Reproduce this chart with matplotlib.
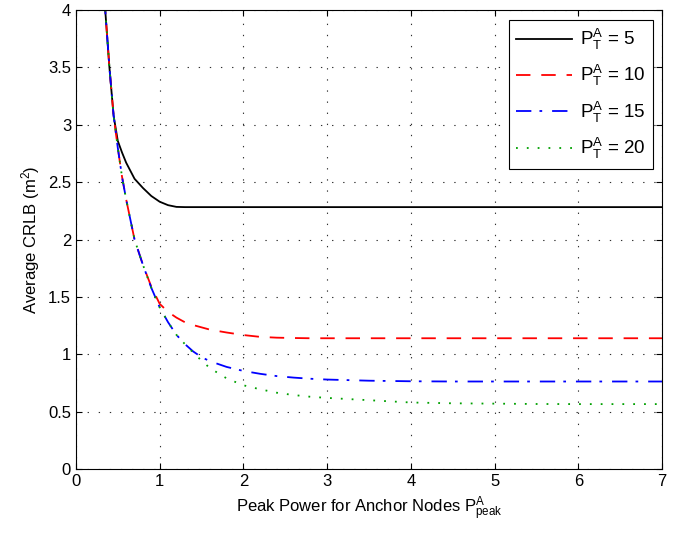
import matplotlib
matplotlib.use("Agg")
import matplotlib.pyplot as plt

plt.rcParams['font.family'] = ['Liberation Sans', 'DejaVu Sans']
plt.rcParams['mathtext.fontset'] = 'custom'
plt.rcParams['mathtext.rm'] = 'Liberation Sans'
plt.rcParams['mathtext.it'] = 'Liberation Sans'
plt.rcParams['font.size'] = 12

# Peak power samples
x = [0.3, 0.35, 0.4, 0.45, 0.5, 0.55, 0.6, 0.7, 0.8, 0.9, 1.0, 1.1, 1.2, 1.3,
     1.4, 1.5, 1.6, 1.8, 2.0, 2.2, 2.4, 2.6, 2.8, 3.0, 3.5, 4.0, 4.5, 5.0,
     5.5, 6.0, 6.5, 7.0]

# CRLB for each total power budget
crlb_5 = [4.7, 4.0, 3.5, 3.08, 2.86, 2.76, 2.67, 2.53, 2.45, 2.38, 2.33, 2.30,
          2.285, 2.283, 2.283, 2.283, 2.283, 2.283, 2.283, 2.283, 2.283, 2.283,
          2.283, 2.283, 2.283, 2.283, 2.283, 2.283, 2.283, 2.283, 2.283, 2.283]
crlb_10 = [4.7, 4.0, 3.5, 3.08, 2.80, 2.55, 2.35, 2.0, 1.78, 1.59, 1.44, 1.37,
           1.32, 1.28, 1.255, 1.235, 1.215, 1.19, 1.168, 1.152, 1.145, 1.142,
           1.14, 1.14, 1.14, 1.14, 1.14, 1.14, 1.14, 1.14, 1.14, 1.14]
crlb_15 = [4.7, 4.0, 3.5, 3.08, 2.80, 2.55, 2.35, 2.0, 1.78, 1.58, 1.41, 1.28,
           1.17, 1.09, 1.025, 0.975, 0.94, 0.89, 0.855, 0.83, 0.81, 0.797,
           0.787, 0.78, 0.77, 0.765, 0.763, 0.763, 0.763, 0.763, 0.763, 0.763]
crlb_20 = [4.7, 4.0, 3.5, 3.08, 2.80, 2.55, 2.35, 2.0, 1.78, 1.58, 1.41, 1.28,
           1.17, 1.09, 1.015, 0.945, 0.88, 0.79, 0.73, 0.695, 0.665, 0.645,
           0.63, 0.62, 0.60, 0.58, 0.573, 0.57, 0.567, 0.566, 0.566, 0.566]

labels = [r'$\mathregular{P_T^A}$ = 5', r'$\mathregular{P_T^A}$ = 10',
          r'$\mathregular{P_T^A}$ = 15', r'$\mathregular{P_T^A}$ = 20']

fig = plt.figure(figsize=(6.84, 5.33), dpi=100)
ax = fig.add_axes([0.111, 0.120, 0.857, 0.861])

ax.plot(x, crlb_5, color='black', linestyle='-', linewidth=1.3, label=labels[0])
ax.plot(x, crlb_10, color='red', linestyle=(0, (8, 6)), linewidth=1.3, label=labels[1])
ax.plot(x, crlb_15, color='blue', linestyle=(0, (8.5, 4.5, 1.5, 5.5)), linewidth=1.3,
        label=labels[2])
ax.plot(x, crlb_20, color='#00a000', linestyle=(0, (1, 5)), linewidth=1.3, label=labels[3])

ax.set_xlim(0, 7)
ax.set_ylim(0, 4)
ax.set_xticks(range(8))
ax.set_yticks([0, 0.5, 1, 1.5, 2, 2.5, 3, 3.5, 4])
ax.set_yticklabels(['0', '0.5', '1', '1.5', '2', '2.5', '3', '3.5', '4'])
ax.tick_params(direction='in', top=True, right=True, length=4, labelsize=12)
ax.grid(True, color='#303030', linestyle=(0, (1.2, 8.8)), linewidth=0.8)

ax.set_xlabel(r'Peak Power for Anchor Nodes $\mathregular{P_{peak}^A}$', fontsize=12)
ax.set_ylabel(r'Average CRLB (m$\mathregular{^2}$)', fontsize=12)

leg = ax.legend(loc='upper right', fancybox=False, edgecolor='black',
                framealpha=1, handlelength=3.0, handletextpad=0.4, fontsize=13.5,
                labelspacing=0.6, borderpad=0.4, borderaxespad=0.5)
leg.get_frame().set_linewidth(0.8)

fig.savefig('out.png', dpi=100)
